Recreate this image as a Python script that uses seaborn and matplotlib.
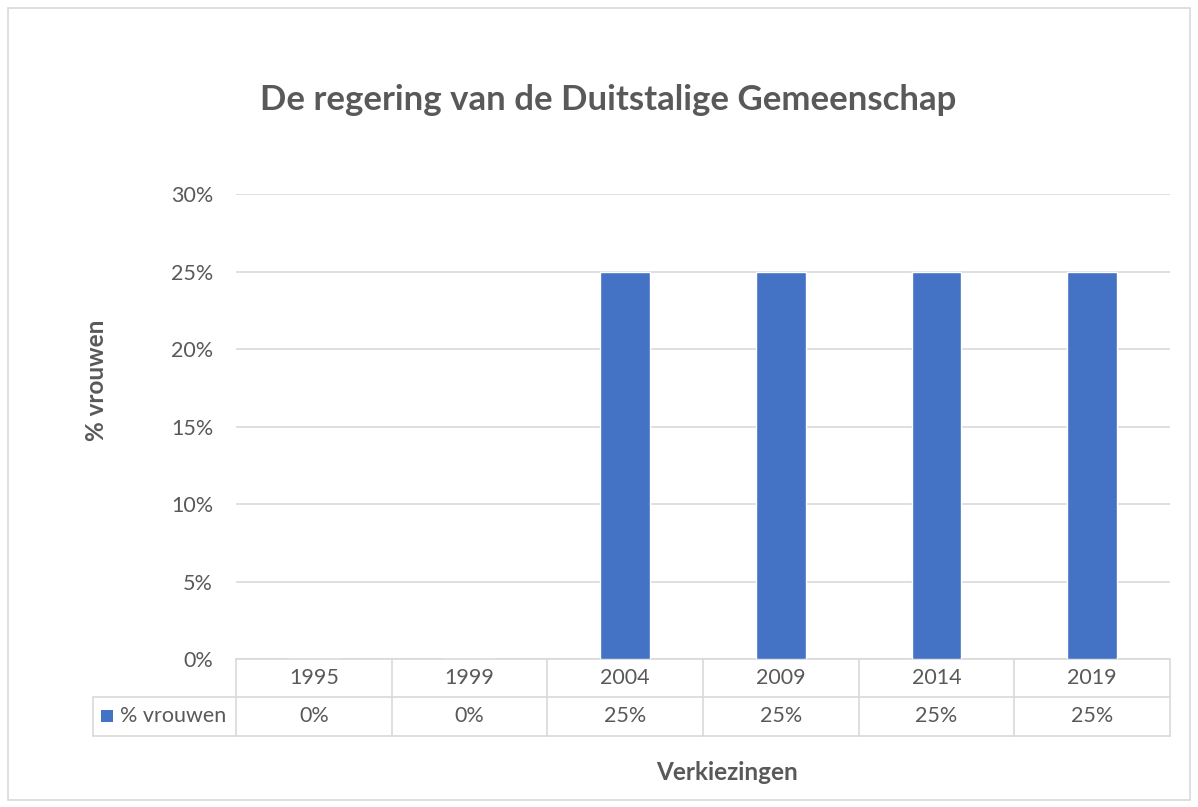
import matplotlib
matplotlib.use("Agg")
import matplotlib.pyplot as plt
import matplotlib.transforms as mtransforms
from matplotlib.patches import Rectangle
import seaborn as sns
import pandas as pd

years = ["1995", "1999", "2004", "2009", "2014", "2019"]
values = [0, 0, 25, 25, 25, 25]
value_labels = ["0%", "0%", "25%", "25%", "25%", "25%"]
series_name = "% vrouwen"
title = "De regering van de Duitstalige Gemeenschap"
xlabel = "Verkiezingen"
yticks = [0, 5, 10, 15, 20, 25, 30]

sns.set_theme(style="white")
plt.rcParams["font.family"] = ["Lato", "DejaVu Sans"]

TXT = "#595959"
GRID = "#D9D9D9"
BAR = "#4472C4"
FS = 15.5

W, H = 1198, 807
fig = plt.figure(figsize=(W / 100, H / 100), dpi=100)
fig.patch.set_facecolor("white")

# outer chart border
fig.add_artist(Rectangle((8 / W, 1 - 800 / H), (1190 - 8) / W, (800 - 8) / H,
                         transform=fig.transFigure, fill=False, edgecolor=GRID, lw=1.2))

l, r, t, b = 236, 1170, 194, 659
ax = fig.add_axes([l / W, 1 - b / H, (r - l) / W, (b - t) / H])

df = pd.DataFrame({"year": years, "value": values})
sns.barplot(data=df, x="year", y="value", color=BAR, width=0.32, saturation=1, ax=ax, zorder=3)

ax.set_ylim(0, 30)
ax.set_xlim(-0.5, len(years) - 0.5)
ax.set_yticks(yticks)
ax.set_yticklabels([f"{v}%" for v in yticks], color=TXT, fontsize=FS)
ax.tick_params(axis="y", length=0, pad=16.5)
ax.set_xticks([])
ax.set_xlabel("")
ax.set_ylabel("")
for s in ax.spines.values():
    s.set_visible(False)
ax.yaxis.grid(True, color=GRID, lw=1.2, zorder=0)
ax.set_axisbelow(True)

# data table below axis
ph = b - t
row1 = -38 / ph
row2 = -77 / ph
cat_w = (r - l) / len(years)
left_x = -0.5 - (l - 93) / cat_w
tr = mtransforms.blended_transform_factory(ax.transData, ax.transAxes)
lk = dict(color=GRID, lw=1.2, transform=tr, clip_on=False)
n = len(years)
ax.plot([-0.5, n - 0.5], [0, 0], **lk)
ax.plot([left_x, n - 0.5], [row1, row1], **lk)
ax.plot([left_x, n - 0.5], [row2, row2], **lk)
for i in range(n + 1):
    ax.plot([i - 0.5, i - 0.5], [0, row2], **lk)
ax.plot([left_x, left_x], [row1, row2], **lk)

for i, (yr, vl) in enumerate(zip(years, value_labels)):
    ax.text(i, row1 / 2, yr, transform=tr, ha="center", va="center", color=TXT, fontsize=FS)
    ax.text(i, (row1 + row2) / 2, vl, transform=tr, ha="center", va="center", color=TXT, fontsize=FS)

# legend key in table
fig.add_artist(Rectangle((101 / W, 1 - 722 / H), 12 / W, 12 / H, transform=fig.transFigure,
                         facecolor=BAR, edgecolor="none"))
fig.text(120 / W, 1 - 716 / H, series_name, ha="left", va="center", color=TXT, fontsize=FS)

fig.text(608 / W, 1 - 100 / H, title, ha="center", va="center", color=TXT,
         fontsize=25, fontweight="bold")
fig.text(97 / W, 1 - 380 / H, series_name, ha="center", va="center", rotation=90,
         color=TXT, fontsize=17.5, fontweight="bold")
fig.text(727 / W, 1 - 772 / H, xlabel, ha="center", va="center", color=TXT,
         fontsize=17.5, fontweight="bold")

fig.savefig("out.png", dpi=100, facecolor="white")
